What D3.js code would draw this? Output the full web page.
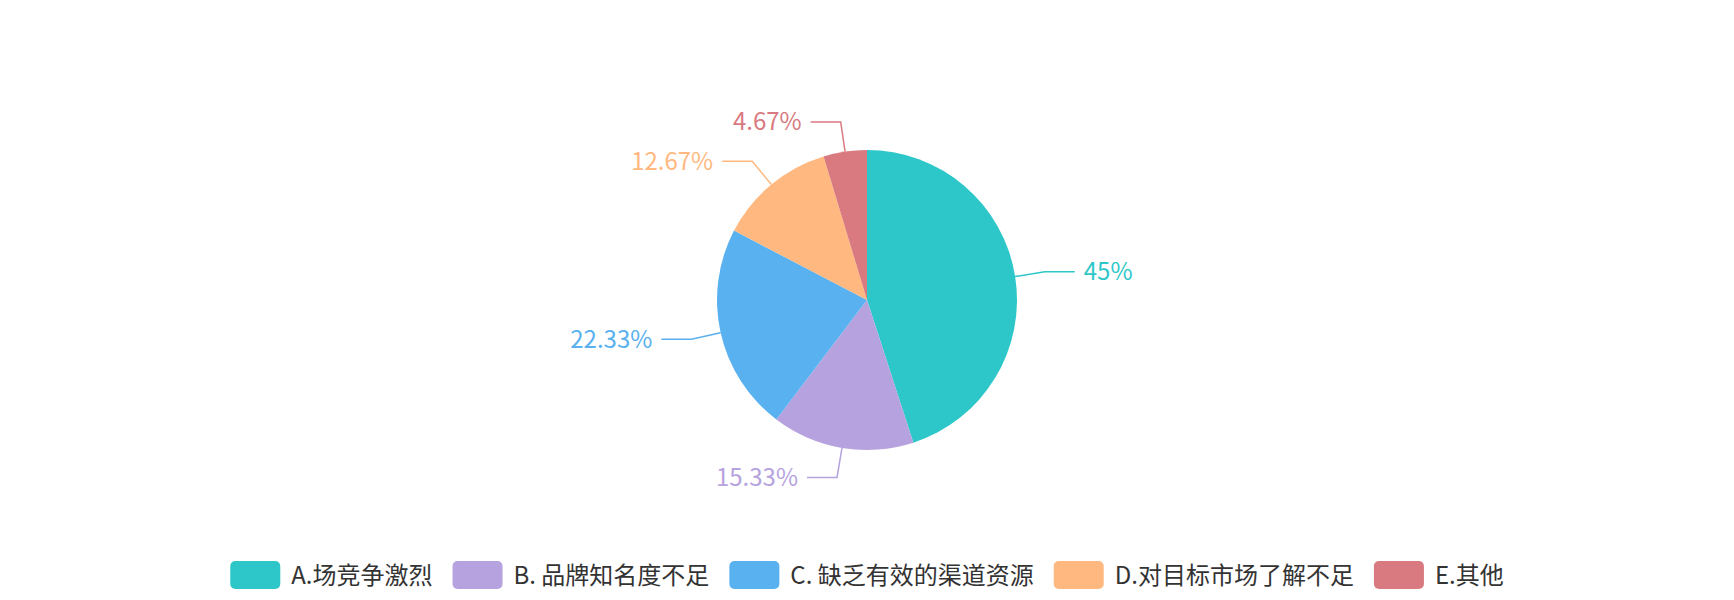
<!DOCTYPE html>
<html lang="zh">
<head>
<meta charset="utf-8">
<title>pie</title>
<script src="https://cdn.jsdelivr.net/npm/d3@7"></script>
<style>
  body { margin: 0; background: #fff; }
  svg { display: block; font-family: "Noto Sans CJK SC", "Noto Sans", sans-serif; }
</style>
</head>
<body>
<svg id="chart" width="1734" height="600"></svg>
<script>
/**chart data*/
var categories = ["A.场竞争激烈", "B. 品牌知名度不足", "C. 缺乏有效的渠道资源", "D.对目标市场了解不足", "E.其他"];
var values = [45, 15.33, 22.33, 12.67, 4.67];
var colors = ["#2ec7c9", "#b6a2de", "#5ab1ef", "#ffb980", "#d87a80"];

var svg = d3.select("#chart"),
    width = +svg.attr("width"),
    height = +svg.attr("height"),
    cx = width / 2,
    cy = height / 2,
    radius = Math.min(width, height) / 2 * 0.5,
    len1 = 30,
    len2 = 30;

var color = d3.scaleOrdinal().domain(categories).range(colors);

var pie = d3.pie().sort(null).value(function(d, i) { return values[i]; });
var arcs = pie(categories);
var arc = d3.arc().innerRadius(0).outerRadius(radius);

var g = svg.append("g").attr("transform", "translate(" + cx + "," + cy + ")");

/**slices*/
g.selectAll("path.slice")
  .data(arcs)
  .enter().append("path")
  .attr("class", "slice")
  .attr("d", arc)
  .attr("fill", function(d) { return color(d.data); });

/**label lines and labels*/
function pt(a, r) { return [r * Math.sin(a), -r * Math.cos(a)]; }

arcs.forEach(function(d, i) {
  var mid = (d.startAngle + d.endAngle) / 2,
      p1 = pt(mid, radius),
      p2 = pt(mid, radius + len1),
      right = Math.sin(mid) >= 0,
      p3 = [p2[0] + (right ? len2 : -len2), p2[1]];
  g.append("polyline")
    .attr("points", [p1, p2, p3].map(function(p) { return p.join(","); }).join(" "))
    .attr("fill", "none")
    .attr("stroke", colors[i])
    .attr("stroke-width", 1.5);
  g.append("text")
    .attr("x", p3[0] + (right ? 9 : -9))
    .attr("y", p3[1] - 2)
    .attr("text-anchor", right ? "start" : "end")
    .attr("dominant-baseline", "central")
    .attr("fill", colors[i])
    .attr("font-size", 24)
    .text(values[i] + "%");
});

/**legend at the bottom*/
var legend = svg.append("g"),
    iconW = 50, iconH = 28, legendY = 575, gap = 20, x = 0;
categories.forEach(function(c, i) {
  var item = legend.append("g").attr("transform", "translate(" + x + ",0)");
  item.append("rect")
    .attr("x", 0).attr("y", legendY - iconH / 2)
    .attr("width", iconW).attr("height", iconH)
    .attr("rx", 5).attr("ry", 5)
    .attr("fill", colors[i]);
  var t = item.append("text")
    .attr("x", iconW + 11).attr("y", legendY - 2)
    .attr("dominant-baseline", "central")
    .attr("fill", "#333")
    .attr("font-size", 24)
    .text(c);
  x += iconW + 11 + t.node().getComputedTextLength() + gap;
});
var total = x - gap;
legend.attr("transform", "translate(" + (cx - total / 2) + ",0)");
</script>
</body>
</html>
